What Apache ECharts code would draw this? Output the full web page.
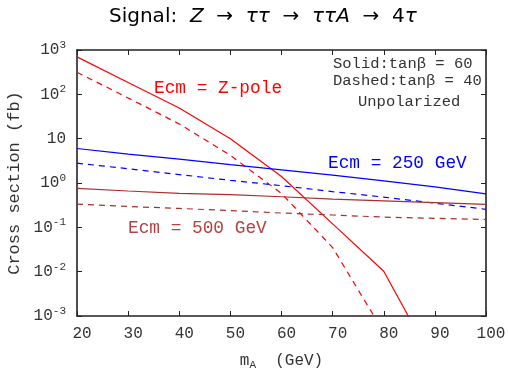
<!DOCTYPE html>
<html><head><meta charset="utf-8">
<script src="https://cdn.jsdelivr.net/npm/echarts@6/dist/echarts.min.js"></script>
<style>html,body{margin:0;padding:0;background:#fff}#c{width:508px;height:369px}</style>
</head><body><div id="c"></div>
<script>
const mA = [20, 30, 40, 50, 60, 70, 80, 90, 100];
const zpoleSolid  = [700, 185, 49, 10, 1.4, 0.12, 0.0102, 0.00008, null];
const zpoleDashed = [314, 83, 21.5, 4.2, 0.58, 0.035, 0.00043, null, null];
const e250Solid   = [6.0, 4.5, 3.45, 2.6, 1.98, 1.5, 1.12, 0.82, 0.57];
const e250Dashed  = [2.8, 2.1, 1.55, 1.15, 0.87, 0.64, 0.48, 0.35, 0.255];
const e500Solid   = [0.755, 0.66, 0.585, 0.547, 0.49, 0.435, 0.395, 0.36, 0.33];
const e500Dashed  = [0.334, 0.295, 0.267, 0.238, 0.21, 0.19, 0.17, 0.16, 0.15];
const xTicks = [20, 30, 40, 50, 60, 70, 80, 90, 100];
const yTickExps = [-3, -2, -1, 0, 1, 2, 3];

const RED = '#ff0000', BLUE = '#0000ff', BROWN = '#a8302c';
const MONO = '"Liberation Mono", "DejaVu Sans Mono", monospace';
const TXT = '#333';

function pairs(arr){ return mA.map((x,i)=>[x, arr[i]]).filter(p=>p[1]!=null); }
function mk(name, arr, color, dashed){
  return {name, type:'line', data:pairs(arr), showSymbol:false, symbol:'none', clip:true,
    lineStyle:{color, width:1.2, type: dashed ? [6,5] : 'solid'}, animation:false};
}
const chart = echarts.init(document.getElementById('c'), null, {renderer:'canvas'});
const axisLine = {show:true, lineStyle:{color:'#222', width:1.6}};
chart.setOption({
  animation:false,
  title:{
    text:'Signal:  {i|Z}  →  {i|ττ}  →  {i|ττA}  →  4{i|τ}',
    left:104, top:2,
    textStyle:{fontFamily:'"DejaVu Sans"', fontSize:20, fontWeight:'normal', color:'#000',
      rich:{i:{fontFamily:'"DejaVu Sans"', fontStyle:'italic', fontSize:20, color:'#000'}}}
  },
  grid:{left:77, right:22, top:50, bottom:53, containLabel:false, outerBoundsMode:'none'},
  xAxis:[{
    type:'value', min:20, max:100, interval:10, position:'bottom',
    axisLine, axisTick:{show:true, inside:true, length:5, lineStyle:{color:'#222'}},
    splitLine:{show:false},
    axisLabel:{fontFamily:MONO, fontSize:16, color:TXT, margin:10, padding:[0,0,0,10]},
    name:'m{s|A}  (GeV)', nameLocation:'middle', nameGap:35,
    nameTextStyle:{fontFamily:MONO, fontSize:16, color:TXT,
      rich:{s:{fontFamily:MONO, fontSize:11, color:TXT, padding:[9,0,0,0]}}}
  },{
    type:'value', min:20, max:100, interval:10, position:'top',
    axisLine, axisTick:{show:true, inside:true, length:5, lineStyle:{color:'#222'}},
    axisLabel:{show:false}, splitLine:{show:false}
  }],
  yAxis:[{
    type:'log', logBase:10, min:0.001, max:1000, splitNumber:6,
    axisLine, axisTick:{show:true, inside:true, length:5, lineStyle:{color:'#222'}},
    minorTick:{show:false}, splitLine:{show:false},
    axisLabel:{
      fontFamily:MONO, fontSize:16, color:TXT, margin:11,
      formatter:function(v){
        const e = Math.round(Math.log10(v));
        if (e === 1) return '10';
        return '10{s|' + e + '}';
      },
      rich:{s:{fontFamily:MONO, fontSize:11, color:TXT, padding:[0,0,10,0]}}
    },
    name:'Cross section (fb)', nameLocation:'middle', nameGap:52, nameRotate:90,
    nameTextStyle:{fontFamily:MONO, fontSize:17, color:TXT}
  },{
    type:'log', logBase:10, min:0.001, max:1000, splitNumber:6, position:'right',
    axisLine, axisTick:{show:true, inside:true, length:5, lineStyle:{color:'#222'}},
    axisLabel:{show:false}, splitLine:{show:false}
  }],
  series:[
    mk('zs', zpoleSolid, RED, false),
    mk('zd', zpoleDashed, RED, true),
    mk('bs', e250Solid, BLUE, false),
    mk('bd', e250Dashed, BLUE, true),
    mk('rs', e500Solid, BROWN, false),
    mk('rd', e500Dashed, BROWN, true)
  ],
  graphic:[
    {type:'text', left:154, top:79, style:{text:'Ecm = Z-pole', fill:RED, font:'17.8px '+MONO}},
    {type:'text', left:328, top:154, style:{text:'Ecm = 250 GeV', fill:BLUE, font:'17.8px '+MONO}},
    {type:'text', left:128, top:219, style:{text:'Ecm = 500 GeV', fill:'#b84040', font:'17.8px '+MONO}},
    {type:'text', left:333, top:56, style:{text:'Solid:tanβ = 60', fill:TXT, font:'15.5px '+MONO}},
    {type:'text', left:333, top:73, style:{text:'Dashed:tanβ = 40', fill:TXT, font:'15.5px '+MONO}},
    {type:'text', left:358, top:94, style:{text:'Unpolarized', fill:TXT, font:'15.5px '+MONO}}
  ]
});
</script></body></html>
